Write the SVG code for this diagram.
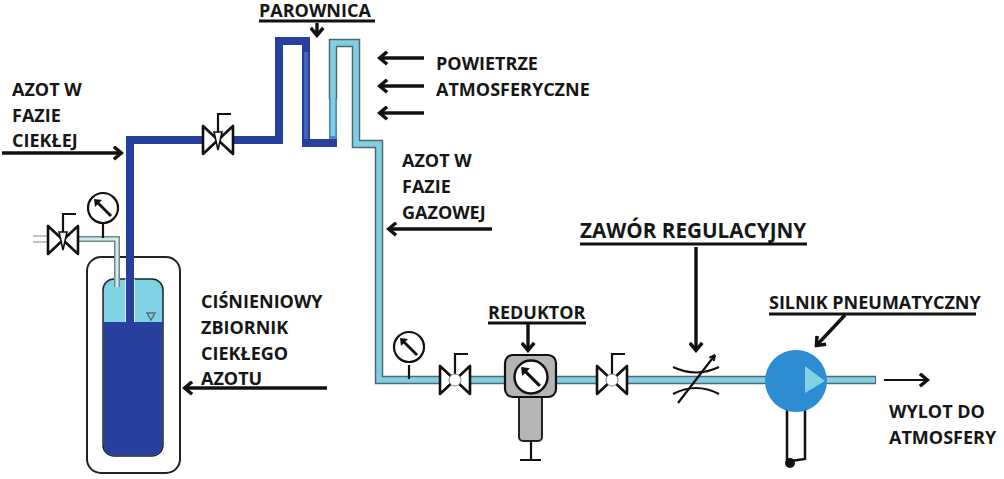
<svg xmlns="http://www.w3.org/2000/svg" width="1004" height="479" viewBox="0 0 1004 479">
<defs>
<style>
text{font-family:"Open Sans","Liberation Sans",sans-serif;font-weight:700;fill:#161616;font-size:18px}
.l{fill:none;stroke:#111;stroke-width:3.400}
.t{fill:none;stroke:#111;stroke-width:2.200}
.v{fill:#fff;stroke:#111;stroke-width:2.600;stroke-linejoin:round}
.o{fill:none;stroke:#56666c;stroke-width:8.500;stroke-linejoin:miter}
.c{fill:none;stroke:#7fd0e4;stroke-width:5.500;stroke-linejoin:miter}
.d{fill:none;stroke:#27409e;stroke-width:8}
.u{stroke:#111;stroke-width:2.800}
</style>
<marker id="a" viewBox="0 0 10 10" refX="9" refY="5" markerWidth="7" markerHeight="7" markerUnits="userSpaceOnUse" orient="auto-start-reverse"><path d="M1 1L9 5L1 9" fill="none" stroke="#111" stroke-width="2.800"/></marker>
<marker id="b" viewBox="0 0 12 12" refX="10.500" refY="6" markerWidth="15" markerHeight="15" markerUnits="userSpaceOnUse" orient="auto-start-reverse"><path d="M4 1L10 6L4 11" fill="none" stroke="#111" stroke-width="2.800"/></marker>
<g id="valve"><path class="v" d="M-15 -14V14L15 -14V14Z"/><path class="t" d="M0 0V-26H13"/></g>
<g id="gauge"><circle r="15" fill="#fff" stroke="#111" stroke-width="2.200"/><path d="M8 8L-7 -7" stroke="#111" stroke-width="2.800"/><path d="M-9 -9L-8 -1L-1 -8Z" fill="#111"/></g>
</defs>
<rect width="1004" height="479" fill="#fff"/>
<g id="connectors">
<path class="o" d="M333 100V43H356V144H379V380H876"/>
<path class="c" d="M333 100V43H356V144H379V380H875"/>
<path d="M333 98V143" fill="none" stroke="#4f86c6" stroke-width="8"/>
<path d="M333 98V136" fill="none" stroke="#7fd0e4" stroke-width="4.500"/>
<path class="d" d="M130 448V140H279V41H306V143H337"/>
<path d="M306 52V139" stroke="#3f66bb" stroke-width="4" fill="none"/>
<path d="M33 236H60M33 242H60" stroke="#888" stroke-width="1.200"/>
<path class="l" d="M2 153H122" marker-end="url(#b)"/>
<path class="l" d="M492 229H388" marker-end="url(#b)"/>
<path class="l" d="M327 388H184" marker-end="url(#b)"/>
<path class="l" d="M424 58H379" marker-end="url(#b)"/>
<path class="l" d="M424 86H379" marker-end="url(#b)"/>
<path class="l" d="M424 113H379" marker-end="url(#b)"/>
<path class="l" d="M317 23V36" marker-end="url(#b)"/>
<path class="l" d="M528 323V351" marker-end="url(#b)"/>
<path class="l" d="M696 247V351" marker-end="url(#b)"/>
<path class="l" d="M845 315L816 346" marker-end="url(#b)"/>
<path class="t" d="M884 380H928" marker-end="url(#b)"/>
</g>
<g id="tank">
<rect x="87" y="257" width="93" height="216" rx="14" fill="#fff" stroke="#222" stroke-width="2"/>
<path d="M126 255V258H134V255Z" fill="#27409e"/>
<rect x="103" y="279" width="60" height="177" rx="11" fill="#7fd3e4" stroke="#222" stroke-width="1.500"/>
<path d="M103.800 322H162.200V445Q162.200 455.200 152 455.200H114Q103.800 455.200 103.800 445Z" fill="#27409e"/>
<rect x="126" y="258" width="8" height="192" fill="#27409e"/>
<path d="M125.500 279V322M134.500 279V322" stroke="#fff" stroke-width="1" opacity=".7"/>
<path d="M147 313H155L151 320Z" fill="none" stroke="#5a6a70" stroke-width="1.400"/>
<path d="M72 239H117V287" fill="none" stroke="#6f8a8a" stroke-width="6"/>
<path d="M72 239H117V287" fill="none" stroke="#d5e8ea" stroke-width="3"/>
</g>
<g id="valve-tank"><use href="#valve" x="63" y="240"/><path d="M59 232H67L63 250Z" fill="#fff" stroke="#111" stroke-width="1.600"/></g>
<g id="gauge-tank"><path class="t" d="M103 223V238"/><use href="#gauge" x="103" y="208"/></g>
<g id="valve-liquid"><use href="#valve" x="218" y="140"/><path d="M214 132H222L218 150Z" fill="#fff" stroke="#111" stroke-width="1.600"/></g>
<g id="gauge-line"><path class="t" d="M409 365V379"/><use href="#gauge" x="409" y="347"/></g>
<g id="valve-1"><use href="#valve" x="455" y="380"/><circle cx="455" cy="380" r="6" fill="#fff" stroke="#888" stroke-width="1"/></g>
<g id="reductor">
<rect x="519" y="381" width="23" height="60" rx="4" fill="#b5b5b5" stroke="#222" stroke-width="2"/>
<path class="t" d="M531 441V460M520 460H541"/>
<rect x="505" y="355" width="51" height="42" rx="8" fill="#b5b5b5" stroke="#111" stroke-width="2.200"/>
<use href="#gauge" transform="translate(531 377) scale(1.100)"/>
</g>
<g id="valve-2"><use href="#valve" x="612" y="380"/><circle cx="612" cy="380" r="6" fill="#fff" stroke="#888" stroke-width="1"/></g>
<g id="regulator">
<path class="t" d="M673 367Q696 378 719 367M673 394Q696 382 719 394"/>
<path class="t" d="M678 403L715 355" marker-end="url(#a)"/>
</g>
<g id="motor">
<path d="M787 410V460M805 410V459L791 461" fill="none" stroke="#111" stroke-width="2.500"/>
<circle cx="790" cy="463" r="5" fill="#111"/>
<circle cx="796" cy="381" r="31" fill="#2c8dd3"/>
<path d="M805 366L825 381L805 393Z" fill="#7fd3e4"/>
</g>
<g id="labels">
<text x="259" y="17">PAROWNICA</text><path class="u" d="M259 21H375"/>
<text x="12" y="96">AZOT W</text><text x="12" y="122">FAZIE</text><text x="12" y="147">CIEKŁEJ</text>
<text x="436" y="70">POWIETRZE</text><text x="436" y="96">ATMOSFERYCZNE</text>
<text x="402" y="167">AZOT W</text><text x="402" y="193">FAZIE</text><text x="402" y="219">GAZOWEJ</text>
<text x="201" y="308">CIŚNIENIOWY</text><text x="201" y="334">ZBIORNIK</text><text x="201" y="360">CIEKŁEGO</text><text x="201" y="385">AZOTU</text>
<text x="488" y="319">REDUKTOR</text><path class="u" d="M488 323H586"/>
<text x="580" y="238" style="font-size:20.700px">ZAWÓR REGULACYJNY</text><path class="u" d="M580 244H807"/>
<text x="769" y="309">SILNIK PNEUMATYCZNY</text><path class="u" d="M769 314H976"/>
<text x="889" y="418">WYLOT DO</text><text x="889" y="444">ATMOSFERY</text>
</g>
</svg>
